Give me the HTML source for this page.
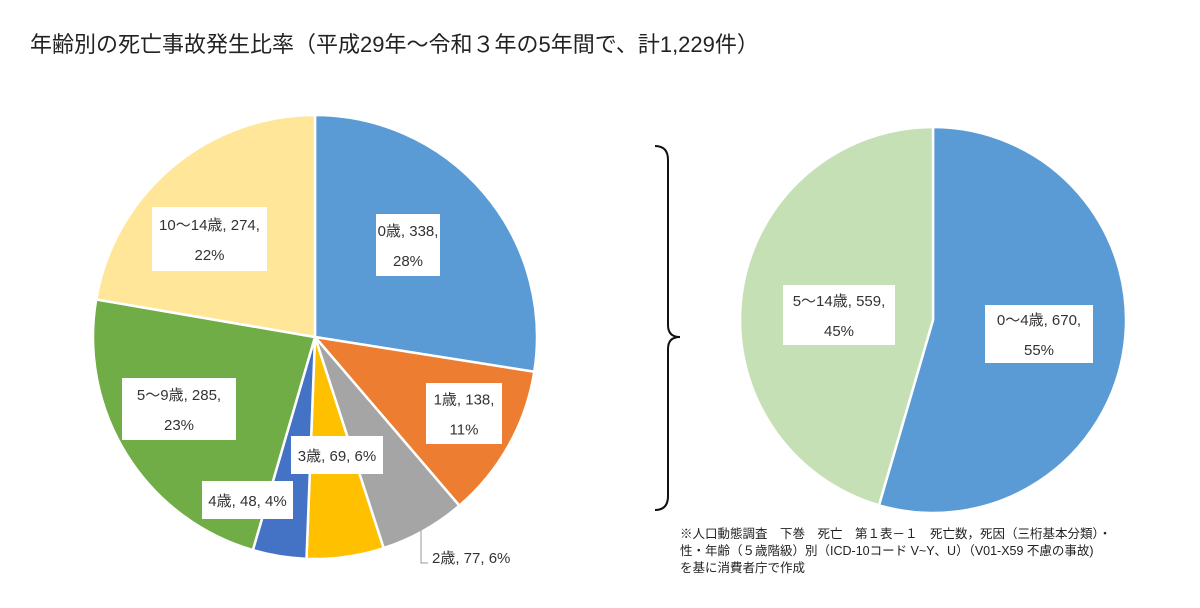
<!DOCTYPE html>
<html><head><meta charset="utf-8"><style>
body{margin:0;width:1200px;height:603px;background:#fff;overflow:hidden;font-family:"Liberation Sans","Noto Sans CJK JP",sans-serif;}
svg text{font-family:"Liberation Sans","Noto Sans CJK JP",sans-serif;}
</style></head><body>
<svg id="c" width="1200" height="603">
<text x="30" y="52" font-size="22" fill="#222">年齢別の死亡事故発生比率（平成29年～令和３年の5年間で、計1,229件）</text>
<g id="left"></g>
<g id="right"></g>
<path d="M655,146 Q668,146 668,160 L668,325 Q668,337 680,337 Q668,337 668,349 L668,496 Q668,510 655,510" fill="none" stroke="#111" stroke-width="2"/>
<polyline points="421,530 421,563 428,563" fill="none" stroke="#999" stroke-width="1"/>
<g font-size="12.5" fill="#222">
<text x="680" y="538">※人口動態調査　下巻　死亡　第１表－１　死亡数，死因（三桁基本分類）・</text>
<text x="680" y="555">性・年齢（５歳階級）別（ICD-10コード V~Y、U）（V01-X59 不慮の事故)</text>
<text x="680" y="572">を基に消費者庁で作成</text>
</g>
</svg>
<script>
const leftCats=["0歳","1歳","2歳","3歳","4歳","5〜9歳","10〜14歳"];
const leftVals=[338,138,77,69,48,285,274];
const leftPct=["28%","11%","6%","6%","4%","23%","22%"];
const rightCats=["0〜4歳","5〜14歳"];
const rightVals=[670,559];
const rightPct=["55%","45%"];
const leftColors=["#5b9bd5","#ed7d31","#a5a5a5","#ffc000","#4472c4","#70ad47","#ffe699"];
const rightColors=["#5b9bd5","#c5e0b4"];
const NS="http://www.w3.org/2000/svg";
function pie(g,vals,colors,cx,cy,r,name){
  const tot=vals.reduce((a,b)=>a+b,0);let a=0;
  vals.forEach((v,i)=>{
    const a0=a,a1=a+v/tot*2*Math.PI;a=a1;
    const x0=cx+r*Math.sin(a0),y0=cy-r*Math.cos(a0),x1=cx+r*Math.sin(a1),y1=cy-r*Math.cos(a1);
    const p=document.createElementNS(NS,"path");
    p.setAttribute("d",`M${cx},${cy}L${x0},${y0}A${r},${r} 0 ${a1-a0>Math.PI?1:0} 1 ${x1},${y1}Z`);
    p.setAttribute("fill",colors[i]);p.setAttribute("stroke","#fff");p.setAttribute("stroke-width","2.5");
    
    
    g.appendChild(p);
  });
}
pie(document.getElementById("left"),leftVals,leftColors,315,337,222,"left");
pie(document.getElementById("right"),rightVals,rightColors,933,320,193,"right");
const svg=document.getElementById("c");
function label(lines,x,y,w,h,name,box){
  const g=document.createElementNS(NS,"g");
  
  
  if(box){const r=document.createElementNS(NS,"rect");
  r.setAttribute("x",x);r.setAttribute("y",y);r.setAttribute("width",w);r.setAttribute("height",h);r.setAttribute("fill","#fff");g.appendChild(r);}
  const n=lines.length,lh=n>1?30:0;
  lines.forEach((t,k)=>{const tx=document.createElementNS(NS,"text");
    tx.setAttribute("x",box?x+w/2:x);tx.setAttribute("y",y+h/2+6+(k-(n-1)/2)*lh);
    tx.setAttribute("text-anchor",box?"middle":"start");tx.setAttribute("font-size","15");tx.setAttribute("fill","#333");
    tx.textContent=t;g.appendChild(tx);});
  svg.appendChild(g);
}
const L=(i,two)=>two?[leftCats[i]+", "+leftVals[i]+",",leftPct[i]]:[leftCats[i]+", "+leftVals[i]+", "+leftPct[i]];
label(L(0,1),376,214,64,62,"label-0",1);
label(L(1,1),426,383,76,61,"label-1",1);
label(L(2,0),432,551,0,12,"label-2",0);
label(L(3,0),291,436,92,38,"label-3",1);
label(L(4,0),202,481,91,38,"label-4",1);
label(L(5,1),122,378,114,62,"label-5",1);
label(L(6,1),152,207,115,64,"label-6",1);
label([rightCats[1]+", "+rightVals[1]+",",rightPct[1]],783,285,112,60,"label-right-1",1);
label([rightCats[0]+", "+rightVals[0]+",",rightPct[0]],985,305,108,58,"label-right-0",1);
</script>
</body></html>
